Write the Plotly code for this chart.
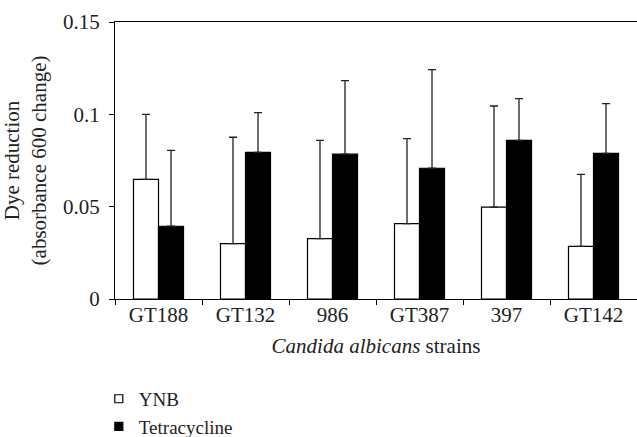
import plotly.graph_objects as go

strains = ["GT188", "GT132", "986", "GT387", "397", "GT142"]
ynb = [0.0648, 0.0300, 0.0327, 0.0408, 0.0497, 0.0285]
ynb_err = [0.0352, 0.0576, 0.0532, 0.0460, 0.0548, 0.0390]
tet = [0.0394, 0.0794, 0.0784, 0.0708, 0.0859, 0.0789]
tet_err = [0.0411, 0.0215, 0.0398, 0.0534, 0.0226, 0.0269]
y_ticks = [0, 0.05, 0.1, 0.15]
y_ticklabels = ["0", "0.05", "0.1", "0.15"]

FONT = "Liberation Serif"
FS = 21

fig = go.Figure()
fig.add_trace(go.Bar(
    x=strains, y=ynb, name="YNB", showlegend=False,
    marker=dict(color="white", line=dict(color="black", width=1.2)),
    error_y=dict(type="data", array=ynb_err, arrayminus=[0] * len(ynb),
                 symmetric=False, color="#222222", thickness=1.3, width=4),
))
fig.add_trace(go.Bar(
    x=strains, y=tet, name="Tetracycline", showlegend=False,
    marker=dict(color="black", line=dict(color="black", width=1.2)),
    error_y=dict(type="data", array=tet_err, arrayminus=[0] * len(tet),
                 symmetric=False, color="#222222", thickness=1.3, width=4),
))
# legend entries
fig.add_trace(go.Scatter(
    x=[None], y=[None], mode="markers", name="YNB",
    marker=dict(symbol="square", size=8, color="white",
                line=dict(color="black", width=1.2)),
))
fig.add_trace(go.Scatter(
    x=[None], y=[None], mode="markers", name="Tetracycline",
    marker=dict(symbol="square", size=8, color="black",
                line=dict(color="black", width=1.2)),
))

fig.update_layout(
    width=637, height=437,
    margin=dict(l=115, r=0, t=22, b=138, autoexpand=False),
    paper_bgcolor="white", plot_bgcolor="white",
    barmode="group", bargap=0.425, bargroupgap=0,
    font=dict(family=FONT, size=FS, color="#222222"),
    legend=dict(orientation="v", x=-0.031, xanchor="left", y=-0.292, yanchor="top",
                font=dict(family=FONT, size=19, color="#222222"),
                bgcolor="rgba(0,0,0,0)", borderwidth=0, tracegroupgap=0),
)
fig.update_xaxes(
    type="category", categoryorder="array", categoryarray=strains,
    showline=True, linecolor="black", linewidth=1.3, mirror=True,
    ticks="outside", tickson="boundaries", ticklen=5, tickcolor="black", tickwidth=1.3,
    showgrid=False, zeroline=False, automargin=False, ticklabelstandoff=-3,
    tickfont=dict(family=FONT, size=FS, color="#222222"),
    title=dict(text="<i>Candida albicans</i> strains", standoff=11,
               font=dict(family=FONT, size=FS, color="#222222")),
)
fig.update_yaxes(
    range=[0, 0.15], tickvals=y_ticks, ticktext=y_ticklabels,
    showline=True, linecolor="black", linewidth=1.3,
    ticks="outside", ticklen=5, tickcolor="black", tickwidth=1.3,
    showgrid=False, zeroline=False, automargin=False, ticklabelstandoff=5,
    tickfont=dict(family=FONT, size=FS, color="#222222"),
    title=dict(text="Dye reduction<br>(absorbance 600 change)", standoff=10,
               font=dict(family=FONT, size=FS, color="#222222")),
)

fig.write_html("out.html", config={"displayModeBar": False},
               post_script="document.body.style.margin='0';")
